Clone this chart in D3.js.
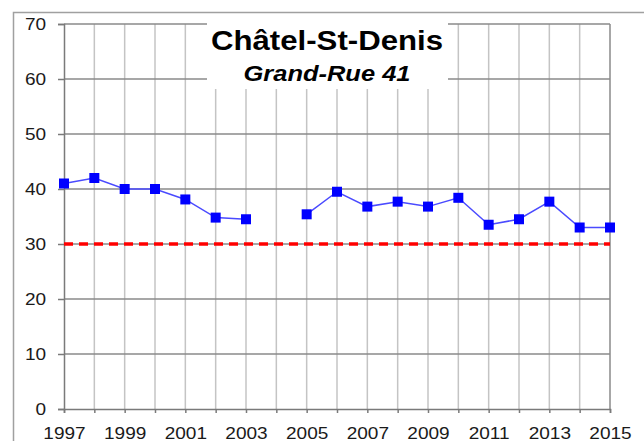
<!DOCTYPE html>
<html>
<head>
<meta charset="utf-8">
<script src="https://cdn.jsdelivr.net/npm/d3@7"></script>
<style>
  body { margin: 0; background: #fff; }
  svg text { font-family: "Liberation Sans", Arial, sans-serif; }
</style>
</head>
<body>
<div id="chart"></div>
<script>
// yearly means, 2004 has no measurement
var years = [1997, 1998, 1999, 2000, 2001, 2002, 2003, 2004, 2005, 2006,
             2007, 2008, 2009, 2010, 2011, 2012, 2013, 2014, 2015];
var values = [41.0, 42.0, 40.0, 40.0, 38.1, 34.8, 34.5, null, 35.4, 39.5,
              36.8, 37.7, 36.8, 38.4, 33.5, 34.5, 37.7, 33.0, 33.0];
var yearLabels = [1997, 1999, 2001, 2003, 2005, 2007, 2009, 2011, 2013, 2015];
var yTicks = [0, 10, 20, 30, 40, 50, 60, 70];
var limit = 30;
var title = "Châtel-St-Denis";
var subtitle = "Grand-Rue 41";

var width = 644, height = 441;
var plotLeft = 64, plotRight = 610, plotTop = 24, plotBottom = 409;
var stretch = "scale(1.12,1)"; // text in the picture is a bit wide

var svg = d3.select("#chart")
  .append("svg")
    .attr("width", width)
    .attr("height", height);

// outer frame
svg.append("rect")
  .attr("x", 13.5).attr("y", 12.5)
  .attr("width", 700).attr("height", 500)
  .attr("fill", "none")
  .attr("stroke", "#a0a0a0")
  .attr("stroke-width", 1.5);

var x = d3.scaleLinear().domain([1997, 2015]).range([plotLeft, plotRight]);
var y = d3.scaleLinear().domain([0, 70]).range([plotBottom, plotTop]);

// vertical grid
svg.append("g")
  .selectAll("line")
  .data(years.slice(1, -1))
  .enter()
  .append("line")
    .attr("x1", d => x(d)).attr("x2", d => x(d))
    .attr("y1", plotTop).attr("y2", plotBottom)
    .attr("stroke", "#c4c4c4")
    .attr("stroke-width", 1.5);

// horizontal grid
svg.append("g")
  .selectAll("line")
  .data(yTicks.slice(1))
  .enter()
  .append("line")
    .attr("x1", plotLeft).attr("x2", plotRight)
    .attr("y1", d => y(d)).attr("y2", d => y(d))
    .attr("stroke", "#8a8a8a")
    .attr("stroke-width", 1.5);

// right border
svg.append("line")
  .attr("x1", plotRight).attr("x2", plotRight)
  .attr("y1", plotTop).attr("y2", plotBottom)
  .attr("stroke", "#8a8a8a")
  .attr("stroke-width", 1.5);

// white box behind the title
svg.append("rect")
  .attr("x", 207).attr("y", 18)
  .attr("width", 241).attr("height", 71)
  .attr("fill", "#fff");

// axes
var xAxis = svg.append("g")
  .attr("transform", "translate(0," + plotBottom + ")")
  .call(d3.axisBottom(x)
    .tickValues(years)
    .tickSize(4)
    .tickPadding(14)
    .tickFormat(d => yearLabels.indexOf(d) >= 0 ? d : ""));

var yAxis = svg.append("g")
  .attr("transform", "translate(" + plotLeft + ",0)")
  .call(d3.axisLeft(y)
    .tickValues(yTicks)
    .tickSize(6)
    .tickPadding(10));

[xAxis, yAxis].forEach(function(g) {
  g.select(".domain").attr("stroke", "#7a7a7a").attr("stroke-width", 1.5);
  g.selectAll(".tick line").attr("stroke", "#7a7a7a").attr("stroke-width", 1.5);
  g.selectAll(".tick text")
    .attr("font-size", 17)
    .attr("fill", "#1a1a1a")
    .attr("transform", stretch);
});
yAxis.selectAll(".tick text").attr("x", -16);

// limit line
svg.append("line")
  .attr("x1", plotLeft).attr("x2", plotRight)
  .attr("y1", y(limit)).attr("y2", y(limit))
  .attr("stroke", "#ff0000")
  .attr("stroke-width", 3.5)
  .attr("stroke-dasharray", "9,6");

var points = years.map((d, i) => ({ year: d, value: values[i] }));

var line = d3.line()
  .defined(d => d.value !== null)
  .x(d => x(d.year))
  .y(d => y(d.value));

svg.append("path")
  .datum(points)
  .attr("d", line)
  .attr("fill", "none")
  .attr("stroke", "#4a4aff")
  .attr("stroke-width", 1.5);

svg.selectAll(".marker")
  .data(points.filter(d => d.value !== null))
  .enter()
  .append("rect")
    .attr("class", "marker")
    .attr("x", d => x(d.year) - 5)
    .attr("y", d => y(d.value) - 5)
    .attr("width", 10)
    .attr("height", 10)
    .attr("fill", "#0000ff");

// titles
svg.append("text")
  .attr("x", 327).attr("y", 50)
  .attr("text-anchor", "middle")
  .attr("font-size", 28)
  .attr("font-weight", "bold")
  .attr("textLength", 232)
  .attr("lengthAdjust", "spacingAndGlyphs")
  .attr("fill", "#000")
  .text(title);

svg.append("text")
  .attr("x", 327).attr("y", 81)
  .attr("text-anchor", "middle")
  .attr("font-size", 22)
  .attr("font-weight", "bold")
  .attr("font-style", "italic")
  .attr("textLength", 167)
  .attr("lengthAdjust", "spacingAndGlyphs")
  .attr("fill", "#000")
  .text(subtitle);
</script>
</body>
</html>
